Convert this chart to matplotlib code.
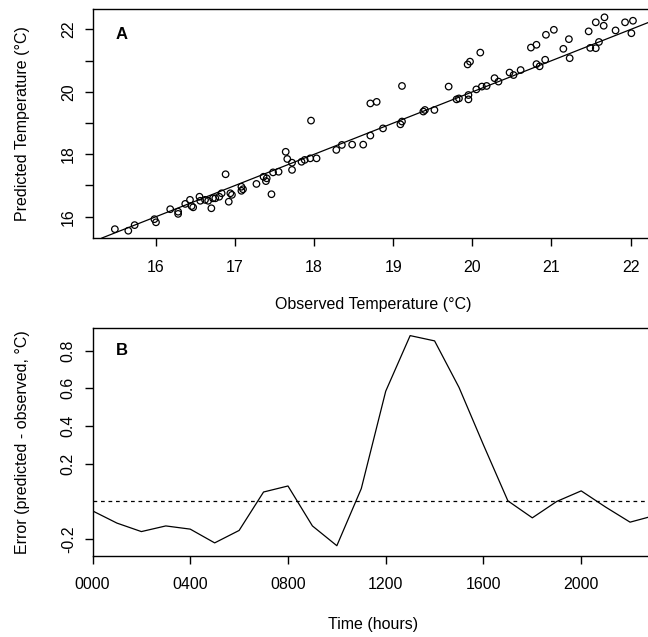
import numpy as np
import matplotlib
matplotlib.use('Agg')
import matplotlib.pyplot as plt

plt.rcParams['font.family'] = ['Liberation Sans', 'DejaVu Sans']

# panel A: observed vs predicted temperature (deg C)
observed = [15.48, 15.65, 15.73, 15.98, 16.00, 16.18, 16.28, 16.28, 16.37, 16.43,
            16.45, 16.47, 16.55, 16.56, 16.62, 16.66, 16.70, 16.72, 16.75, 16.80,
            16.83, 16.88, 16.92, 16.94, 16.96, 17.08, 17.08, 17.10, 17.27, 17.36,
            17.39, 17.40, 17.46, 17.48, 17.55, 17.64, 17.66, 17.72, 17.72, 17.84,
            17.88, 17.95, 18.03, 17.96, 18.28, 18.35, 18.48, 18.62, 18.71, 18.71,
            18.79, 18.87, 19.09, 19.11, 19.11, 19.38, 19.40, 19.52, 19.70, 19.80,
            19.83, 19.95, 19.95, 19.94, 19.97, 20.10, 20.05, 20.12, 20.18, 20.28,
            20.33, 20.47, 20.52, 20.61, 20.74, 20.81, 20.81, 20.85, 20.92, 20.93,
            21.03, 21.15, 21.22, 21.23, 21.47, 21.49, 21.56, 21.60, 21.56, 21.67,
            21.66, 21.81, 21.93, 22.03, 22.01]
predicted = [15.60, 15.55, 15.73, 15.92, 15.82, 16.24, 16.16, 16.09, 16.41, 16.54,
             16.34, 16.30, 16.64, 16.51, 16.54, 16.51, 16.27, 16.59, 16.59, 16.64,
             16.75, 17.36, 16.48, 16.75, 16.70, 16.96, 16.83, 16.88, 17.05, 17.28,
             17.14, 17.23, 16.72, 17.42, 17.44, 18.08, 17.85, 17.50, 17.73, 17.76,
             17.82, 17.87, 17.87, 19.08, 18.14, 18.30, 18.31, 18.31, 18.60, 19.63,
             19.68, 18.83, 18.96, 19.05, 20.19, 19.37, 19.42, 19.42, 20.17, 19.76,
             19.79, 19.90, 19.76, 20.88, 20.97, 21.26, 20.08, 20.17, 20.19, 20.44,
             20.33, 20.62, 20.54, 20.70, 21.42, 21.51, 20.89, 20.82, 21.03, 21.83,
             21.99, 21.38, 21.69, 21.08, 21.94, 21.41, 21.40, 21.60, 22.23, 22.39,
             22.12, 21.97, 22.23, 22.28, 21.88]
fit_intercept = 0.0
fit_slope = 1.0

# panel B: hourly error (predicted - observed)
hours = list(range(24))
error = [-0.05, -0.115, -0.16, -0.13, -0.147, -0.22, -0.154, 0.05, 0.082, -0.13,
         -0.235, 0.068, 0.585, 0.88, 0.852, 0.605, 0.30, 0.003, -0.087, 0.0,
         0.056, -0.03, -0.11, -0.075]
hour_ticks = [0, 4, 8, 12, 16, 20]
hour_labels = ['0000', '0400', '0800', '1200', '1600', '2000']

fs = 11.5
fig = plt.figure(figsize=(6.48, 6.37), dpi=100)

def rstyle(ax):
    for s in ax.spines.values():
        s.set_linewidth(1.0)
    ax.tick_params(direction='out', length=6, width=1.0, labelsize=fs, pad=6)

ax1 = fig.add_axes([92.7 / 648, (637 - 238) / 637, (654 - 92.7) / 648, (238 - 9.3) / 637])
ax1.scatter(observed, predicted, s=22, facecolors='none', edgecolors='black', linewidths=0.9)
ax1.axline((0, fit_intercept), slope=fit_slope, color='black', lw=0.9)
ax1.set_xlim(15.20, 22.296)
ax1.set_ylim(15.317, 22.647)
ax1.set_xticks([16, 17, 18, 19, 20, 21, 22])
ax1.set_yticks([16, 17, 18, 19, 20, 21, 22])
ax1.set_yticklabels(['16', '', '18', '', '20', '', '22'], rotation=90, va='center')
rstyle(ax1)
ax1.tick_params(axis='x', pad=10)
ax1.set_xlabel('Observed Temperature (°C)', fontsize=fs, labelpad=16)
ax1.set_ylabel('Predicted Temperature (°C)', fontsize=fs, labelpad=22)
ax1.text(0.041, 0.888, 'A', transform=ax1.transAxes, fontsize=fs + 0.5,
         fontweight='bold', va='center')

ax2 = fig.add_axes([92.5 / 648, (637 - 555.7) / 637, (654.5 - 92.5) / 648, (555.7 - 327.7) / 637])
ax2.plot(hours, error, color='black', lw=0.9)
ax2.axhline(0, color='black', lw=0.9, linestyle=(0, (3, 3)))
ax2.set_xlim(0, 23)
ax2.set_ylim(-0.288, 0.922)
ax2.set_xticks(hour_ticks)
ax2.set_xticklabels(hour_labels)
ax2.set_yticks([-0.2, 0.2, 0.4, 0.6, 0.8])
ax2.set_yticklabels(['-0.2', '0.2', '0.4', '0.6', '0.8'], rotation=90, va='center')
rstyle(ax2)
ax2.tick_params(axis='x', pad=9)
ax2.set_xlabel('Time (hours)', fontsize=fs, labelpad=18)
ax2.set_ylabel('Error (predicted - observed, °C)', fontsize=fs, labelpad=22)
ax2.text(0.041, 0.898, 'B', transform=ax2.transAxes, fontsize=fs + 0.5,
         fontweight='bold', va='center')

fig.savefig('out.png', dpi=100)
